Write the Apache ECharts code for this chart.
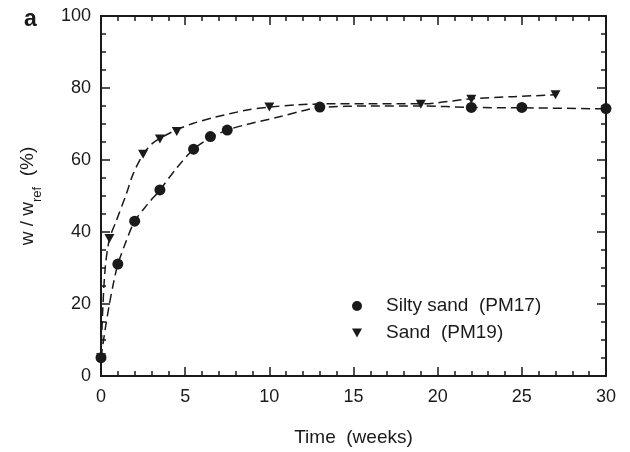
<!DOCTYPE html>
<html>
<head>
<meta charset="utf-8">
<script src="https://cdn.jsdelivr.net/npm/echarts@6/dist/echarts.min.js"></script>
<style>
  html, body { margin: 0; padding: 0; background: #fff; }
  #main { width: 630px; height: 452px; }
</style>
</head>
<body>
<div id="main"></div>
<script>
// silty sand (PM17), circles
var siltyWeeks = [0, 1, 2, 3.5, 5.5, 6.5, 7.5, 13, 22, 25, 30];
var siltyValues = [5.1, 31.1, 43, 51.7, 63, 66.5, 68.3, 74.7, 74.6, 74.6, 74.3];
// sand (PM19), triangles
var sandWeeks = [0, 0.5, 2.5, 3.5, 4.5, 10, 19, 22, 27];
var sandValues = [5.1, 38.2, 61.6, 65.8, 67.9, 74.7, 75.5, 76.9, 78.1];

// dashed fit curves
var siltyCurveWeeks = [0, 0.25, 0.5, 0.75, 1, 1.5, 2, 2.75, 3.5, 4.5, 5.5, 6.5, 7.5, 8.6, 10.6, 12, 13, 16, 19, 22, 25, 30];
var siltyCurveValues = [5, 13, 20, 26, 31, 37.5, 43, 47.6, 51.7, 57.8, 63, 66.2, 68.3, 69.8, 72, 73.7, 74.6, 75, 75, 74.6, 74.5, 74.2];
var sandCurveWeeks = [0, 0.1, 0.25, 0.5, 0.9, 1.5, 1.9, 2.5, 3, 3.5, 4.5, 5.5, 6.7, 8.6, 10, 11.6, 13.4, 16, 19, 22, 24.5, 27];
var sandCurveValues = [5, 18, 30, 38, 43, 50.5, 56, 61.6, 64.4, 66, 68.4, 70.2, 71.8, 73.8, 74.7, 75.3, 75.6, 75.6, 75.6, 77, 77.6, 78.1];

var seriesNames = ['Silty sand  (PM17)', 'Sand  (PM19)'];
var xTicks = [0, 5, 10, 15, 20, 25, 30];
var yTicks = [0, 20, 40, 60, 80, 100];

var downTri = 'path://M0,0 L10,0 L5,9 Z';
var ink = '#1a1a1a';
var font = 'Liberation Sans, Arial, sans-serif';

function pairs(xs, ys) {
    return xs.map(function (x, i) { return [x, ys[i]]; });
}

function axisBase(pos, showLabels, min, max, interval, minorSplit) {
    return {
        type: 'value',
        position: pos,
        min: min,
        max: max,
        interval: interval,
        axisLine: { show: true, onZero: false, lineStyle: { color: ink, width: 2 } },
        axisTick: { show: true, inside: true, length: 9, lineStyle: { color: ink, width: 1.5 } },
        minorTick: { show: true, splitNumber: minorSplit, length: 5, lineStyle: { color: ink, width: 1.5 } },
        splitLine: { show: false },
        axisLabel: { show: showLabels, color: ink, fontSize: 18, fontFamily: font }
    };
}

var xBottom = axisBase('bottom', true, xTicks[0], xTicks[xTicks.length - 1], 5, 5);
xBottom.axisLabel.margin = 12;
xBottom.name = 'Time  (weeks)';
xBottom.nameLocation = 'middle';
xBottom.nameGap = 52;
xBottom.nameTextStyle = { color: ink, fontSize: 19, fontFamily: font };
var xTop = axisBase('top', false, xTicks[0], xTicks[xTicks.length - 1], 5, 5);

var yLeft = axisBase('left', true, yTicks[0], yTicks[yTicks.length - 1], 20, 4);
yLeft.axisLabel.margin = 10;
yLeft.name = '{a|w / w}{b|ref}{a|  (%)}';
yLeft.nameLocation = 'middle';
yLeft.nameGap = 64;
yLeft.nameTextStyle = {
    color: ink,
    fontFamily: font,
    rich: {
        a: { fontSize: 19, color: ink, fontFamily: font, lineHeight: 22, verticalAlign: 'bottom' },
        b: { fontSize: 13, color: ink, fontFamily: font, lineHeight: 22, verticalAlign: 'bottom', padding: [0, 0, -7, 0] }
    }
};
var yRight = axisBase('right', false, yTicks[0], yTicks[yTicks.length - 1], 20, 4);

function curve(xs, ys) {
    return {
        type: 'line',
        data: pairs(xs, ys),
        smooth: 0.3,
        showSymbol: false,
        symbol: 'none',
        silent: true,
        lineStyle: { color: ink, width: 1.5, type: [9, 5] },
        z: 1
    };
}

var chart = echarts.init(document.getElementById('main'));
chart.setOption({
    animation: false,
    backgroundColor: '#fff',
    title: {
        text: 'a',
        left: 19,
        top: 3,
        textStyle: { fontSize: 23, fontWeight: 'bold', color: ink, fontFamily: font }
    },
    grid: { left: 101, right: 24, top: 16, bottom: 76 },
    legend: {
        orient: 'vertical',
        left: 347,
        top: 291,
        itemWidth: 10,
        itemHeight: 10,
        itemGap: 7,
        textStyle: { fontSize: 19, lineHeight: 20, color: ink, fontFamily: font, padding: [0, 0, 0, 19] },
        data: [
            { name: seriesNames[0], icon: 'circle' },
            { name: seriesNames[1], icon: downTri }
        ]
    },
    xAxis: [xBottom, xTop],
    yAxis: [yLeft, yRight],
    series: [
        curve(siltyCurveWeeks, siltyCurveValues),
        curve(sandCurveWeeks, sandCurveValues),
        {
            name: seriesNames[0],
            type: 'scatter',
            data: pairs(siltyWeeks, siltyValues),
            symbol: 'circle',
            symbolSize: 11,
            itemStyle: { color: ink, opacity: 1 },
            z: 4
        },
        {
            name: seriesNames[1],
            type: 'scatter',
            data: pairs(sandWeeks, sandValues),
            symbol: downTri,
            symbolSize: [10, 9],
            itemStyle: { color: ink, opacity: 1 },
            z: 3
        }
    ]
});
</script>
</body>
</html>
